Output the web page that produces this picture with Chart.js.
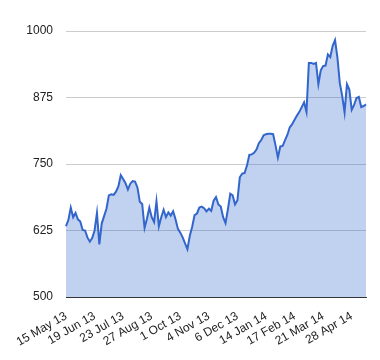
<!DOCTYPE html>
<html>
<head>
<meta charset="utf-8">
<title>Price chart</title>
<script src="https://cdn.jsdelivr.net/npm/chart.js@4.4.1/dist/chart.umd.min.js"></script>
<style>
    body { margin: 0; background: #fff; }
    #chart-box { width: 380px; height: 360px; }
</style>
</head>
<body>
<div id="chart-box"><canvas id="price-chart" width="380" height="360"></canvas></div>
<script>
// tick labels on the x axis, one every 12 points
const tickLabels = ['15 May 13', '19 Jun 13', '23 Jul 13', '27 Aug 13', '1 Oct 13', '4 Nov 13',
    '6 Dec 13', '14 Jan 14', '17 Feb 14', '21 Mar 14', '28 Apr 14'];
const tickEvery = 12;

// y axis ticks
const yTicks = [500, 625, 750, 875, 1000];

// closing values (every 2nd trading day)
const prices = [
    633, 645, 668, 650, 658, 646, 642, 626, 625, 612,
    604, 611, 625, 658, 599, 638, 652, 666, 691, 693,
    692, 698, 708, 729, 722, 714, 702, 713, 718, 717,
    706, 679, 675, 630, 647, 668, 650, 641, 680, 633,
    650, 664, 650, 659, 653, 661, 646, 628, 621, 612,
    601, 590, 615, 632, 654, 657, 668, 670, 667, 661,
    666, 662, 681, 688, 674, 670, 650, 639, 665, 694,
    691, 674, 682, 725, 732, 733, 747, 767, 768, 771,
    777, 789, 795, 804, 806, 807, 807, 806, 785, 762,
    783, 784, 795, 805, 819, 825, 833, 841, 848, 857,
    866, 848, 940, 940, 938, 940, 900, 926, 934, 935,
    956, 951, 972, 983, 950, 902, 878, 847, 900, 890,
    852, 861, 874, 876, 857, 859, 862
];

// category labels: only every 12th point gets a tick label
const labels = prices.map((p, i) => (i % tickEvery === 0 ? (tickLabels[i / tickEvery] || '') : ''));

const ctx = document.getElementById('price-chart').getContext('2d');
new Chart(ctx, {
    type: 'line',
    data: {
        labels: labels,
        datasets: [{
            data: prices,
            borderColor: '#3366cc',
            backgroundColor: 'rgba(51, 102, 204, 0.3)',
            borderWidth: 2,
            fill: 'start',
            pointRadius: 0,
            tension: 0
        }]
    },
    options: {
        responsive: false,
        animation: false,
        layout: { padding: { top: 31, right: 14, left: 0, bottom: 0 } },
        plugins: {
            legend: { display: false },
            tooltip: { enabled: false }
        },
        scales: {
            x: {
                grid: { display: false },
                border: { display: true, color: '#333', width: 1 },
                ticks: {
                    autoSkip: false,
                    minRotation: 30,
                    maxRotation: 30,
                    padding: 4,
                    color: '#222',
                    font: { family: 'Liberation Sans', size: 12 }
                },
                afterFit: (scale) => { scale.height = 63; }
            },
            y: {
                min: 500,
                max: 1000,
                afterBuildTicks: (scale) => { scale.ticks = yTicks.map(v => ({ value: v })); },
                grid: {
                    drawTicks: false,
                    color: (c) => (c.tick && c.tick.value === 500 ? '#333' : '#ccc')
                },
                border: { display: false },
                ticks: {
                    padding: 13,
                    color: '#222',
                    font: { family: 'Liberation Sans', size: 12 },
                    callback: (value) => String(value) // no thousands separator
                },
                afterFit: (scale) => { scale.width = 66; }
            }
        }
    }
});
</script>
</body>
</html>
